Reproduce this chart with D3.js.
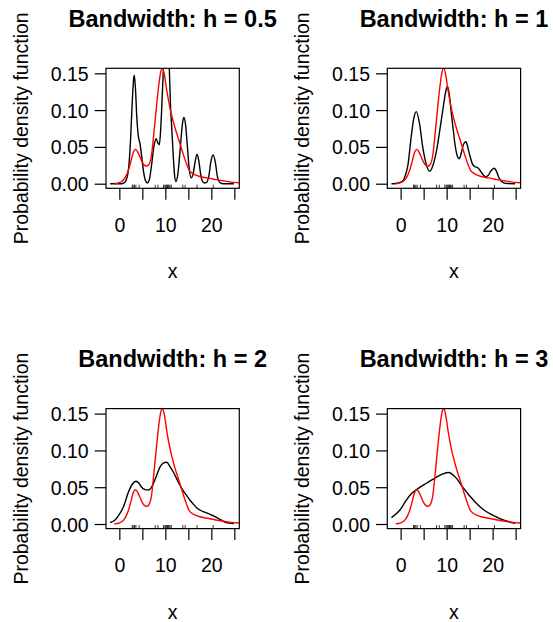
<!DOCTYPE html>
<html>
<head>
<meta charset="utf-8">
<script src="https://cdn.jsdelivr.net/npm/d3@7"></script>
<style>
  html, body { margin: 0; padding: 0; background: #fff; }
  svg { display: block; }
  text { font-family: "Liberation Sans", Arial, Helvetica, sans-serif; fill: #000; }
</style>
</head>
<body>
<script>
// Kernel density estimates of one sample with four bandwidths, each drawn over the true density.

const bandwidths = ["0.5", "1", "2", "3"];
const xTicks = [0, 5, 10, 15, 20, 25];
const xTickLabels = ["0", "", "10", "", "20", ""];
const yTicks = [0, 0.05, 0.10, 0.15];
const yTickLabels = ["0.00", "0.05", "0.10", "0.15"];

// observed sample (rug)
const sample = [2.8, 3.0, 3.3, 3.6, 4.3, 7.8, 8.4, 9.6, 9.9, 10.1, 10.3, 10.5, 10.6, 10.8, 11.0, 11.3, 13.8, 14.3, 16.9, 20.4];

// true density (red)
const trueDensity = [
  [-1.1, 0.0002], [-0.5, 0.0006], [0, 0.0015], [0.5, 0.003], [1, 0.006], [1.5, 0.011], [2, 0.019],
  [2.5, 0.030], [3.0, 0.042], [3.5, 0.0466], [4.0, 0.043], [4.5, 0.036], [5.0, 0.029], [5.5, 0.025],
  [6.0, 0.024], [6.5, 0.027], [7.0, 0.039], [7.5, 0.068], [8.0, 0.100], [8.5, 0.130], [9.0, 0.152],
  [9.35, 0.157], [9.8, 0.148], [10.3, 0.127], [11.0, 0.103], [12.0, 0.078], [13.0, 0.058],
  [14.0, 0.038], [14.6, 0.027], [15.2, 0.018], [15.7, 0.015], [16.5, 0.012], [17.5, 0.0098],
  [18.5, 0.0085], [19.7, 0.0072], [21, 0.0055], [22.5, 0.0040], [24, 0.0025], [26, 0.0013]
];

// estimate, h = 0.5
const est05 = [
  [-2.0, 0], [0.5, 0], [1.0, 0.001], [1.5, 0.005], [2.0, 0.02], [2.4, 0.055], [2.8, 0.11], [3.1, 0.142],
  [3.25, 0.1475], [3.5, 0.13], [3.8, 0.09], [4.1, 0.066], [4.5, 0.054], [4.9, 0.035], [5.3, 0.015],
  [5.7, 0.004], [6.1, 0.001], [6.5, 0.005], [7.0, 0.025], [7.5, 0.05], [8.0, 0.061], [8.4, 0.055],
  [8.7, 0.053], [9.0, 0.075], [9.3, 0.115], [9.6, 0.16], [9.8, 0.19], [10.0, 0.215], [10.25, 0.225],
  [10.5, 0.215], [10.7, 0.19], [10.9, 0.15], [11.1, 0.11], [11.4, 0.075], [11.7, 0.04], [12.0, 0.012],
  [12.3, 0.003], [12.7, 0.012], [13.0, 0.03], [13.4, 0.06], [13.8, 0.085], [14.05, 0.09], [14.4, 0.08],
  [14.8, 0.05], [15.2, 0.02], [15.6, 0.008], [16.0, 0.012], [16.4, 0.027], [16.9, 0.04], [17.3, 0.03],
  [17.7, 0.012], [18.1, 0.003], [18.5, 0.001], [19.0, 0.002], [19.5, 0.012], [19.9, 0.03], [20.4, 0.039],
  [20.9, 0.028], [21.3, 0.01], [21.8, 0.002], [22.5, 0], [24.9, 0]
];

// estimate, h = 1
const est1 = [
  [-2.0, 0], [-1, 0.0003], [0, 0.002], [0.5, 0.004], [1.0, 0.011], [1.6, 0.026], [2.3, 0.064],
  [2.9, 0.09], [3.4, 0.098], [4.1, 0.082], [4.8, 0.05], [5.5, 0.028], [6.3, 0.017], [6.8, 0.021],
  [7.35, 0.032], [7.9, 0.048], [8.4, 0.068], [9.0, 0.093], [9.5, 0.114], [9.9, 0.128], [10.2, 0.132],
  [10.6, 0.12], [10.95, 0.1], [11.4, 0.075], [11.9, 0.05], [12.35, 0.037], [12.75, 0.034], [13.2, 0.042],
  [13.7, 0.054], [14.2, 0.057], [14.7, 0.047], [15.1, 0.037], [15.6, 0.027], [16.2, 0.023], [16.7, 0.022],
  [17.2, 0.0186], [17.8, 0.013], [18.5, 0.0095], [19.0, 0.011], [19.6, 0.017], [20.3, 0.021],
  [20.9, 0.016], [21.3, 0.009], [21.8, 0.004], [22.3, 0.0015], [22.8, 0.0005], [24.9, 0]
];

// estimate, h = 2
const est2 = [
  [-2.0, 0.002], [-1, 0.005], [0, 0.013], [0.87, 0.023], [1.96, 0.043], [2.8, 0.054], [3.6, 0.058],
  [4.3, 0.055], [4.85, 0.05], [5.5, 0.047], [6.3, 0.046], [6.9, 0.049], [7.4, 0.055], [8.1, 0.066],
  [8.8, 0.077], [9.6, 0.083], [10.3, 0.084], [11.0, 0.078], [11.7, 0.071], [12.5, 0.061], [13.2, 0.0525],
  [14.0, 0.044], [14.6, 0.039], [15.4, 0.032], [16.1, 0.027], [16.8, 0.022], [17.5, 0.019], [18.6, 0.016],
  [19.7, 0.013], [20.5, 0.011], [21.2, 0.0086], [22.0, 0.006], [22.6, 0.0036], [23.5, 0.0015], [24.9, 0.0005]
];

// estimate, h = 3
const est3 = [
  [-2.0, 0.0086], [-0.2, 0.0186], [1.2, 0.032], [2.3, 0.041], [3.75, 0.048], [5.5, 0.055], [7.35, 0.062],
  [9.15, 0.068], [10.4, 0.070], [12.0, 0.063], [13.5, 0.050], [14.9, 0.039], [16.35, 0.029], [18.2, 0.0186],
  [20.0, 0.012], [22.1, 0.006], [24.9, 0.001]
];

const estimates = [est05, est1, est2, est3];

const W = 553, H = 622;
const svg = d3.select("body").append("svg").attr("width", W).attr("height", H);
svg.append("rect").attr("width", W).attr("height", H).attr("fill", "#fff");

// plot region of the first panel; the others are offset copies
const box = { left: 106, top: 68.3, width: 133.3, height: 120 };
const colOffset = [0, 281.3];
const rowOffset = [0, 340.3];

const x = d3.scaleLinear().domain([-2.9, 26.08]).range([0, box.width]);
const y = d3.scaleLinear().domain([-0.00625, 0.1568]).range([box.height, 0]);

const line = d3.line().x(d => x(d[0])).y(d => y(d[1])).curve(d3.curveMonotoneX);

const axisFont = 19.5;
const titleFont = 23.5;

bandwidths.forEach((h, i) => {
  const ox = box.left + colOffset[i % 2];
  const oy = box.top + rowOffset[Math.floor(i / 2)];
  const g = svg.append("g").attr("transform", `translate(${ox},${oy})`);

  const clipId = "clip" + i;
  g.append("clipPath").attr("id", clipId)
    .append("rect").attr("x", 0).attr("y", 0).attr("width", box.width).attr("height", box.height);

  const plot = g.append("g").attr("clip-path", `url(#${clipId})`);

  plot.append("path").datum(estimates[i])
    .attr("d", line).attr("fill", "none").attr("stroke", "#000").attr("stroke-width", 1.4);

  // rug of the sample
  plot.selectAll("line.rug").data(sample).enter().append("line")
    .attr("class", "rug")
    .attr("x1", d => x(d)).attr("x2", d => x(d))
    .attr("y1", box.height).attr("y2", box.height - 3.6)
    .attr("stroke", "#000").attr("stroke-width", 0.8);

  plot.append("path").datum(trueDensity)
    .attr("d", line).attr("fill", "none").attr("stroke", "#ff0000").attr("stroke-width", 1.4);

  // frame
  g.append("rect").attr("x", 0).attr("y", 0).attr("width", box.width).attr("height", box.height)
    .attr("fill", "none").attr("stroke", "#000").attr("stroke-width", 1.2);

  // x axis
  const xAxis = d3.axisBottom(x).tickValues(xTicks).tickSize(11.5).tickPadding(0)
    .tickFormat((d, k) => xTickLabels[k]);
  const xa = g.append("g").attr("transform", `translate(0,${box.height})`).call(xAxis);
  xa.select(".domain").remove();
  xa.selectAll(".tick line").attr("stroke", "#000").attr("stroke-width", 1.2);
  xa.selectAll(".tick text").attr("y", 0).attr("dy", 0)
    .attr("transform", `translate(0,${232 - 188.3})`)
    .style("font-size", axisFont + "px").style("font-family", "Liberation Sans, Arial, sans-serif")
    .attr("fill", "#000");

  // y axis
  const yAxis = d3.axisLeft(y).tickValues(yTicks).tickSize(11.3).tickPadding(17.3 - 11.3)
    .tickFormat((d, k) => yTickLabels[k]);
  const ya = g.append("g").call(yAxis);
  ya.select(".domain").remove();
  ya.selectAll(".tick line").attr("stroke", "#000").attr("stroke-width", 1.2);
  ya.selectAll(".tick text").attr("dy", "0.36em")
    .style("font-size", axisFont + "px").style("font-family", "Liberation Sans, Arial, sans-serif")
    .attr("fill", "#000");

  // titles
  g.append("text").attr("x", box.width / 2).attr("y", 27 - 68.3)
    .attr("text-anchor", "middle").style("font-size", titleFont + "px").style("font-weight", "bold")
    .text("Bandwidth: h = " + h);

  g.append("text").attr("x", box.width / 2).attr("y", 278.3 - 68.3)
    .attr("text-anchor", "middle").style("font-size", axisFont + "px")
    .text("x");

  g.append("text")
    .attr("transform", `translate(${27.6 - 106},${box.height / 2}) rotate(-90)`)
    .attr("text-anchor", "middle").style("font-size", axisFont + "px")
    .text("Probability density function");
});
</script>
</body>
</html>
